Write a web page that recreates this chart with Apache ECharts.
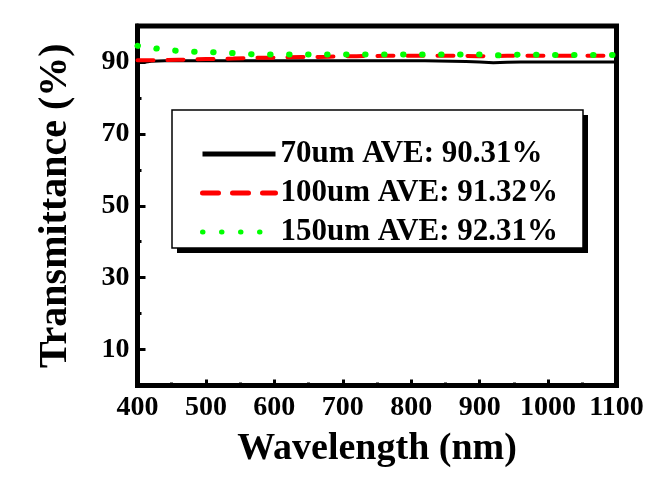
<!DOCTYPE html>
<html>
<head>
<meta charset="utf-8">
<script src="https://cdn.jsdelivr.net/npm/echarts@6/dist/echarts.min.js"></script>
<style>
html,body{margin:0;padding:0;background:#fff;}
#chart{width:661px;height:481px;}
</style>
</head>
<body>
<div id="chart"></div>
<script>
// ---- data ----
var wavelengths = [400,410,420,440,460,480,500,520,540,560,580,600,620,640,660,680,700,720,740,760,780,800,820,840,860,880,900,920,940,960,980,1000,1020,1040,1060,1080,1100];
var t70  = [89.85,89.9,90.2,90.3,90.3,90.35,90.3,90.3,90.35,90.3,90.3,90.35,90.3,90.3,90.3,90.35,90.3,90.3,90.3,90.3,90.3,90.3,90.3,90.25,90.2,90.1,90.0,89.75,89.9,90.0,90.0,90.0,90.0,90.0,90.0,90.0,90.0];
var t100 = [90.5,90.5,90.5,90.5,90.6,90.7,90.8,90.85,90.95,91.1,91.15,91.2,91.3,91.35,91.4,91.45,91.55,91.6,91.65,91.7,91.7,91.7,91.75,91.75,91.75,91.7,91.6,91.65,91.7,91.7,91.7,91.75,91.75,91.75,91.75,91.75,91.75];
var t150 = [94.5,94.2,93.9,93.45,93.05,92.85,92.75,92.65,92.45,92.2,92.1,92.1,92.1,92.1,92.1,92.1,92.1,92.1,92.1,92.1,92.1,92.1,92.1,92.1,92.1,92.05,92.05,91.8,91.95,92.05,92.0,91.95,91.9,91.95,91.95,91.95,91.95];
var seriesNames = ['70um AVE: 90.31%','100um AVE: 91.32%','150um AVE: 92.31%'];
var yMajorTicks = [10,30,50,70,90];
var yMinorTicks = [20,40,60,80];
var xName = 'Wavelength (nm)';
var yName = 'Transmittance (%)';

function pairs(v){ return wavelengths.map(function(w,i){ return [w, v[i]]; }); }

var FONT = '"Liberation Serif","Times New Roman",serif';
var chart = echarts.init(document.getElementById('chart'), null, {renderer:'canvas'});
chart.setOption({
  animation:false,
  backgroundColor:'#fff',
  grid:{left:137.5, right:44.5, top:26, bottom:95.5, show:true, borderColor:'#000', borderWidth:5, backgroundColor:'transparent'},
  xAxis:{
    type:'value', min:400, max:1100, interval:100,
    name:xName, nameLocation:'middle', nameGap:45,
    nameTextStyle:{fontFamily:FONT, fontWeight:'bold', fontSize:38, color:'#000'},
    axisLine:{lineStyle:{color:'#000', width:5}},
    axisTick:{inside:true, length:6, lineStyle:{color:'#000', width:3}},
    minorTick:{show:true, splitNumber:2, length:3, lineStyle:{color:'#000', width:3}},
    axisLabel:{fontFamily:FONT, fontWeight:'bold', fontSize:28, color:'#000', margin:8, showMinLabel:true, showMaxLabel:true,
      formatter:function(v){ return String(v); }},
    splitLine:{show:false}
  },
  yAxis:[{
    type:'value', min:0, max:100,
    name:yName, nameLocation:'middle', nameGap:62,
    nameTextStyle:{fontFamily:FONT, fontWeight:'bold', fontSize:40, color:'#000'},
    axisLine:{lineStyle:{color:'#000', width:5}},
    axisTick:{inside:true, length:8, customValues:yMajorTicks, lineStyle:{color:'#000', width:3}},
    axisLabel:{fontFamily:FONT, fontWeight:'bold', fontSize:28, color:'#000', margin:8, customValues:yMajorTicks},
    splitLine:{show:false}
  },{
    type:'value', min:0, max:100, position:'left',
    axisLine:{show:false},
    axisTick:{inside:true, length:4, customValues:yMinorTicks, lineStyle:{color:'#000', width:3}},
    axisLabel:{show:false},
    splitLine:{show:false}
  }],
  legend:{
    orient:'vertical', left:200, top:138, itemGap:7, padding:0,
    itemWidth:73, itemHeight:6,
    data:seriesNames,
    itemStyle:{color:'transparent', borderWidth:0, opacity:0},
    lineStyle:{width:5},
    textStyle:{fontFamily:FONT, fontWeight:'bold', fontSize:31, color:'#000', lineHeight:32},
    z:10
  },
  graphic:[
    {type:'rect', z:8, shape:{x:177, y:115, width:411, height:138}, style:{fill:'#000'}},
    {type:'rect', z:9, shape:{x:172, y:110, width:411, height:138}, style:{fill:'#fff', stroke:'#000', lineWidth:1.5}}
  ],
  series:[
    {name:seriesNames[0], type:'line', data:pairs(t70), symbol:'none', z:3,
     lineStyle:{color:'#000', width:3}, itemStyle:{color:'#000'}},
    {name:seriesNames[1], type:'line', data:pairs(t100), symbol:'none', z:4,
     lineStyle:{color:'#ff0000', width:4, type:[16,14], cap:'round'}, itemStyle:{color:'#ff0000'}},
    {name:seriesNames[2], type:'line', data:pairs(t150), symbol:'none', z:5,
     lineStyle:{color:'#00ff00', width:6, type:[0.5,18.5], cap:'round'}, itemStyle:{color:'#00ff00'}}
  ]
});
</script>
</body>
</html>
